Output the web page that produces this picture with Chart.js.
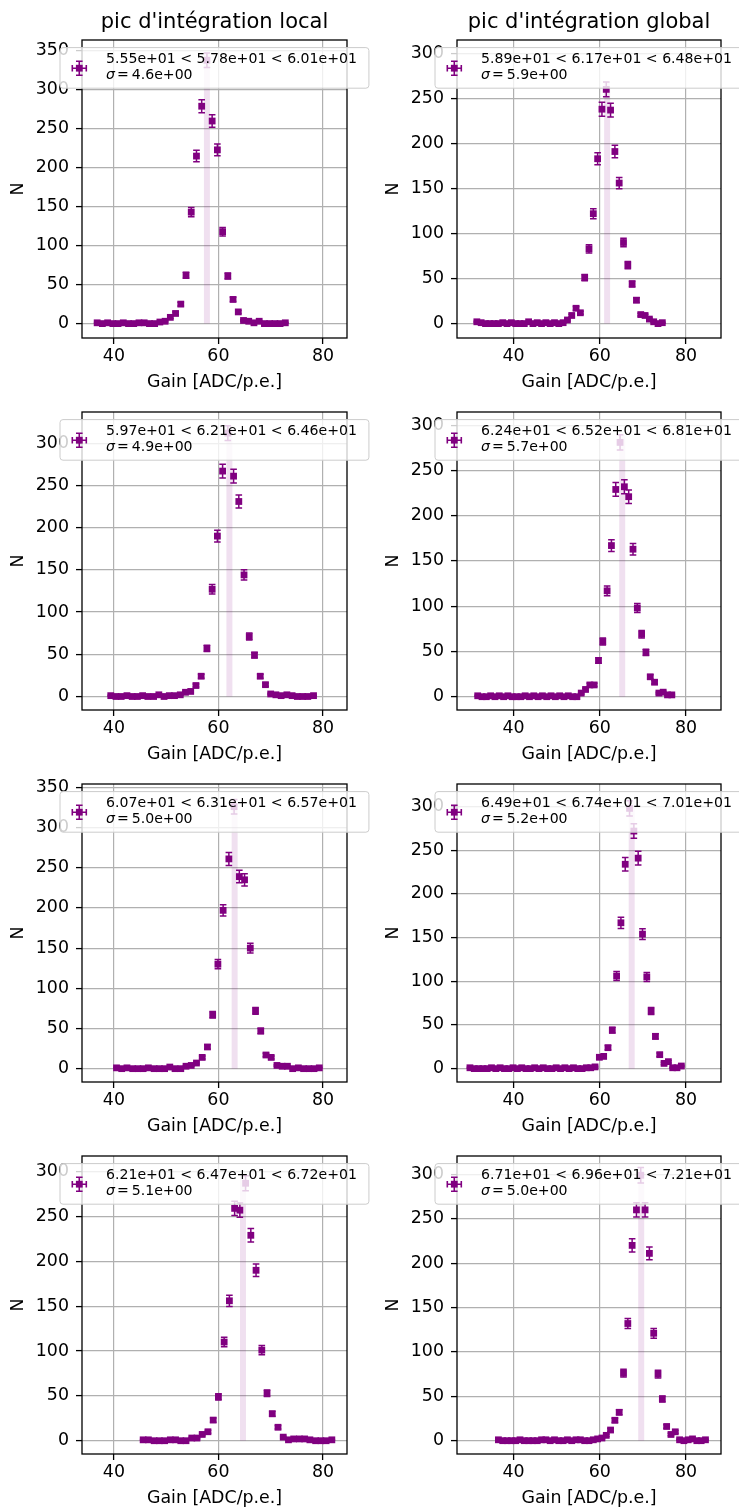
<!DOCTYPE html>
<html>
<head>
<meta charset="utf-8">
<script src="https://cdn.jsdelivr.net/npm/chart.js@4.4.0/dist/chart.umd.min.js"></script>
<style>
  html, body { margin: 0; padding: 0; background: #fff; overflow: hidden; width: 739px; height: 1508px; }
  canvas { position: absolute; }
</style>
</head>
<body>
<script>
// column titles and axis labels
const colTitles = ["pic d'intégration local", "pic d'intégration global"];
const xLabel = 'Gain [ADC/p.e.]';
const yLabel = 'N';

// row 1
const gainLocal1 = [36.8, 37.8, 38.8, 39.8, 40.8, 41.8, 42.8, 43.8, 44.8, 45.8, 46.8, 47.8, 48.8, 49.8, 50.8, 51.8, 52.8, 53.8, 54.8, 55.8, 56.8, 57.8, 58.8, 59.8, 60.8, 61.8, 62.8, 63.8, 64.8, 65.8, 66.8, 67.8, 68.8, 69.8, 70.8, 71.8, 72.8];
const countLocal1 = [1, 0, 1, 0, 0, 1, 0, 0, 1, 1, 0, 0, 2, 3, 8, 13, 25, 62, 143, 215, 279, 338, 260, 223, 118, 61, 31, 15, 4, 3, 1, 3, 0, 0, 0, 0, 1];
const gainGlobal1 = [31.5, 32.5, 33.5, 34.5, 35.5, 36.5, 37.5, 38.5, 39.5, 40.5, 41.5, 42.5, 43.5, 44.5, 45.5, 46.5, 47.5, 48.5, 49.5, 50.5, 51.5, 52.5, 53.5, 54.5, 55.5, 56.5, 57.5, 58.5, 59.5, 60.5, 61.5, 62.5, 63.5, 64.5, 65.5, 66.5, 67.5, 68.5, 69.5, 70.5, 71.5, 72.5, 73.5, 74.5];
const countGlobal1 = [2, 1, 0, 0, 0, 0, 1, 0, 1, 0, 0, 0, 2, 0, 1, 0, 1, 0, 1, 0, 1, 4, 9, 17, 12, 51, 83, 122, 183, 238, 260, 237, 191, 156, 90, 65, 44, 26, 10, 9, 5, 2, 0, 1];

// row 2
const gainLocal2 = [39.4, 40.4, 41.4, 42.5, 43.5, 44.5, 45.5, 46.5, 47.6, 48.6, 49.6, 50.6, 51.6, 52.7, 53.7, 54.7, 55.7, 56.7, 57.8, 58.8, 59.8, 60.8, 61.8, 62.9, 63.9, 64.9, 65.9, 66.9, 68.0, 69.0, 70.0, 71.0, 72.0, 73.1, 74.1, 75.1, 76.1, 77.1, 78.2];
const countLocal2 = [1, 0, 0, 1, 0, 0, 1, 0, 0, 2, 0, 1, 1, 2, 5, 6, 13, 24, 57, 127, 190, 267, 312, 261, 231, 144, 71, 49, 24, 14, 3, 2, 1, 2, 1, 0, 0, 0, 1];
const gainGlobal2 = [31.7, 32.7, 33.7, 34.7, 35.7, 36.7, 37.7, 38.7, 39.7, 40.7, 41.7, 42.7, 43.7, 44.7, 45.7, 46.7, 47.7, 48.7, 49.7, 50.7, 51.7, 52.7, 53.7, 54.7, 55.7, 56.7, 57.7, 58.7, 59.7, 60.7, 61.7, 62.7, 63.7, 64.7, 65.7, 66.7, 67.7, 68.7, 69.7, 70.7, 71.7, 72.7, 73.7, 74.7, 75.7, 76.7];
const countGlobal2 = [1, 0, 0, 1, 0, 1, 0, 1, 0, 0, 0, 1, 0, 1, 0, 1, 0, 1, 0, 1, 0, 1, 0, 0, 4, 8, 13, 13, 40, 61, 117, 167, 229, 281, 232, 221, 163, 98, 69, 49, 22, 16, 4, 5, 2, 2];

// row 3
const gainLocal3 = [40.5, 41.5, 42.5, 43.6, 44.6, 45.6, 46.6, 47.7, 48.7, 49.7, 50.7, 51.7, 52.8, 53.8, 54.8, 55.8, 56.9, 57.9, 58.9, 59.9, 60.9, 62.0, 63.0, 64.0, 65.0, 66.1, 67.1, 68.1, 69.1, 70.1, 71.2, 72.2, 73.2, 74.2, 75.3, 76.3, 77.3, 78.3, 79.3];
const countLocal3 = [1, 0, 1, 0, 0, 0, 1, 0, 0, 0, 2, 0, 0, 3, 4, 7, 14, 27, 67, 130, 197, 261, 326, 239, 235, 150, 72, 47, 17, 14, 4, 3, 3, 0, 1, 0, 0, 0, 1];
const gainGlobal3 = [29.9, 30.9, 31.9, 32.9, 33.9, 34.9, 35.9, 36.9, 37.9, 38.9, 39.9, 40.9, 41.9, 42.9, 43.9, 44.9, 45.9, 46.9, 47.9, 48.9, 49.9, 50.9, 51.9, 52.9, 53.9, 54.9, 55.9, 56.9, 57.9, 58.9, 59.9, 60.9, 61.9, 62.9, 63.9, 64.9, 65.9, 66.9, 67.9, 68.9, 69.9, 70.9, 71.9, 72.9, 73.9, 74.9, 75.9, 76.9, 77.9, 78.9];
const countGlobal3 = [1, 0, 0, 0, 0, 1, 0, 1, 0, 0, 1, 0, 1, 0, 0, 1, 0, 1, 0, 0, 1, 0, 1, 0, 1, 0, 0, 1, 1, 2, 13, 14, 24, 44, 106, 167, 234, 298, 272, 241, 154, 105, 66, 37, 16, 6, 8, 1, 1, 3];

// row 4
const gainLocal4 = [45.6, 46.6, 47.7, 48.7, 49.7, 50.8, 51.8, 52.8, 53.8, 54.9, 55.9, 56.9, 58.0, 59.0, 60.0, 61.1, 62.1, 63.1, 64.1, 65.2, 66.2, 67.2, 68.3, 69.3, 70.3, 71.4, 72.4, 73.4, 74.4, 75.5, 76.5, 77.5, 78.6, 79.6, 80.6, 81.7];
const countLocal4 = [1, 1, 0, 0, 0, 1, 1, 0, 0, 3, 3, 7, 10, 23, 49, 110, 156, 259, 257, 287, 229, 190, 101, 53, 30, 15, 4, 1, 2, 2, 2, 1, 0, 0, 0, 1];
const gainGlobal4 = [36.5, 37.5, 38.5, 39.5, 40.5, 41.5, 42.5, 43.5, 44.5, 45.5, 46.5, 47.5, 48.5, 49.5, 50.5, 51.5, 52.5, 53.5, 54.5, 55.5, 56.5, 57.5, 58.5, 59.5, 60.5, 61.5, 62.5, 63.5, 64.5, 65.5, 66.5, 67.5, 68.5, 69.5, 70.5, 71.5, 72.5, 73.5, 74.5, 75.5, 76.5, 77.5, 78.5, 79.5, 80.5, 81.5, 82.5, 83.5, 84.5];
const countGlobal4 = [1, 0, 0, 0, 0, 1, 0, 0, 0, 0, 1, 1, 0, 1, 0, 0, 1, 0, 1, 1, 0, 0, 1, 2, 3, 6, 12, 23, 32, 76, 132, 220, 260, 299, 260, 211, 121, 75, 47, 16, 7, 10, 1, 0, 1, 2, 0, 0, 1];

// legend numbers per panel (order: L1, R1, L2, R2, L3, R3, L4, R4)
const qLow  = [55.5, 58.9, 59.7, 62.4, 60.7, 64.9, 62.1, 67.1];
const qMed  = [57.8, 61.7, 62.1, 65.2, 63.1, 67.4, 64.7, 69.6];
const qHigh = [60.1, 64.8, 64.6, 68.1, 65.7, 70.1, 67.2, 72.1];
const sigma = [4.6, 5.9, 4.9, 5.7, 5.0, 5.2, 5.1, 5.0];

// axis limits
const xLimLocal = [33.9, 84.6];
const xLimGlobal = [26.9, 88.1];
const yLimLow  = [-18.5, -16, -16, -14.7, -16.6, -15.3, -14.8, -15];
const yLimHigh = [364, 314.8, 337, 314.6, 354.2, 325.9, 317.4, 320.7];

const gains = [gainLocal1, gainGlobal1, gainLocal2, gainGlobal2, gainLocal3, gainGlobal3, gainLocal4, gainGlobal4];
const counts = [countLocal1, countGlobal1, countLocal2, countGlobal2, countLocal3, countGlobal3, countLocal4, countGlobal4];

const PURPLE = '#800080';
const FONT = '"DejaVu Sans", "Liberation Sans", sans-serif';
const BASE = 17.4;
const LEG = 14.1;
Chart.defaults.font.family = FONT;
Chart.defaults.color = '#000';

// error on a count, half the Poisson error
const countErr = n => Math.sqrt(n) / 2;

function sci(v, d) {
  const [m, e] = v.toExponential(d).split('e');
  const n = parseInt(e, 10);
  return m + 'e' + (n < 0 ? '-' : '+') + String(Math.abs(n)).padStart(2, '0');
}

function roundRectPath(ctx, x, y, w, h, r) {
  ctx.beginPath();
  ctx.moveTo(x + r, y);
  ctx.lineTo(x + w - r, y);
  ctx.arcTo(x + w, y, x + w, y + r, r);
  ctx.lineTo(x + w, y + h - r);
  ctx.arcTo(x + w, y + h, x + w - r, y + h, r);
  ctx.lineTo(x + r, y + h);
  ctx.arcTo(x, y + h, x, y + h - r, r);
  ctx.lineTo(x, y + r);
  ctx.arcTo(x, y, x + r, y, r);
  ctx.closePath();
}

function drawErrMarker(ctx, cx, cy, ex, ey, cap) {
  ctx.beginPath();
  ctx.moveTo(cx, cy - ey); ctx.lineTo(cx, cy + ey);
  ctx.moveTo(cx - cap, cy - ey); ctx.lineTo(cx + cap, cy - ey);
  ctx.moveTo(cx - cap, cy + ey); ctx.lineTo(cx + cap, cy + ey);
  if (ex > 0) {
    ctx.moveTo(cx - ex, cy); ctx.lineTo(cx + ex, cy);
    ctx.moveTo(cx - ex, cy - cap); ctx.lineTo(cx - ex, cy + cap);
    ctx.moveTo(cx + ex, cy - cap); ctx.lineTo(cx + ex, cy + cap);
  }
  ctx.stroke();
}

const panelExtras = {
  id: 'panelExtras',
  afterDatasetsDraw(chart) {
    const ctx = chart.ctx;
    const xs = chart.scales.x, ys = chart.scales.y;
    ctx.save();
    ctx.strokeStyle = PURPLE;
    ctx.lineWidth = 1.5;
    chart.data.datasets[0].data.forEach(pt => {
      const e = countErr(pt.y);
      if (e <= 0) return;
      const px = xs.getPixelForValue(pt.x);
      const py = ys.getPixelForValue(pt.y);
      const ey = Math.abs(ys.getPixelForValue(pt.y + e) - py);
      drawErrMarker(ctx, px, py, 0, ey, 3.3);
    });
    ctx.restore();
  },
  afterDraw(chart, args, opts) {
    const ctx = chart.ctx;
    const ca = chart.chartArea;
    ctx.save();
    // spines
    ctx.strokeStyle = '#000';
    ctx.lineWidth = 1.3;
    ctx.strokeRect(ca.left, ca.top, ca.right - ca.left, ca.bottom - ca.top);

    // column title
    if (opts.title) {
      ctx.fillStyle = '#000';
      ctx.font = '21px ' + FONT;
      ctx.textAlign = 'center';
      ctx.textBaseline = 'alphabetic';
      ctx.fillText(opts.title, (ca.left + ca.right) / 2, ca.top - 12.5);
    }

    // legend
    const line1 = sci(opts.low, 2) + ' < ' + sci(opts.med, 2) + ' < ' + sci(opts.high, 2);
    ctx.font = LEG + 'px ' + FONT;
    const w1 = ctx.measureText(line1).width;
    const lx = ca.left - 22, ly = ca.top + 7.6, lw = 46 + w1 + 12, lh = 40.6;
    roundRectPath(ctx, lx, ly, lw, lh, 3);
    ctx.fillStyle = 'rgba(255,255,255,0.8)';
    ctx.fill();
    ctx.strokeStyle = '#cccccc';
    ctx.lineWidth = 1;
    ctx.stroke();

    const mx = lx + 19.3, my = ly + 20.6;
    ctx.strokeStyle = PURPLE;
    ctx.fillStyle = PURPLE;
    ctx.lineWidth = 1.6;
    drawErrMarker(ctx, mx, my, 7, 7, 3.3);
    ctx.fillRect(mx - 3.4, my - 3.4, 6.8, 6.8);

    ctx.fillStyle = '#000';
    ctx.textAlign = 'left';
    ctx.textBaseline = 'alphabetic';
    const tx = lx + 46;
    ctx.fillText(line1, tx, ly + 15.7);
    ctx.font = 'italic ' + LEG + 'px ' + FONT;
    ctx.fillText('σ', tx, ly + 31.4);
    let x2 = tx + ctx.measureText('σ').width + 2;
    ctx.font = LEG + 'px ' + FONT;
    ctx.fillText('=', x2, ly + 31.4);
    x2 += ctx.measureText('=').width + 3;
    ctx.fillText(sci(opts.sigma, 1), x2, ly + 31.4);
    ctx.restore();
  }
};

gains.forEach((xsArr, i) => {
  const col = i % 2, row = Math.floor(i / 2);
  const W = col ? 369 : 370, H = 400;
  const cv = document.createElement('canvas');
  cv.width = W; cv.height = H;
  cv.style.left = (col * 370) + 'px';
  cv.style.top = (row * 372) + 'px';
  cv.style.width = W + 'px';
  cv.style.height = H + 'px';
  document.body.appendChild(cv);

  const ys = counts[i];
  const pts = xsArr.map((x, k) => ({ x: x, y: ys[k] }));
  const bandTop = Math.max(...ys.map(n => n + countErr(n)));
  const xLim = col ? xLimGlobal : xLimLocal;

  new Chart(cv, {
    type: 'scatter',
    data: {
      datasets: [
        {
          label: 'N',
          data: pts,
          pointStyle: 'rect',
          pointRadius: 4.8,
          backgroundColor: PURPLE,
          borderWidth: 0,
          order: 1
        },
        {
          type: 'line',
          label: 'median',
          data: [{ x: qMed[i], y: 0 }, { x: qMed[i], y: bandTop }],
          borderColor: 'rgba(128,0,128,0.12)',
          borderWidth: 6,
          borderCapStyle: 'butt',
          pointRadius: 0,
          order: 2
        }
      ]
    },
    options: {
      responsive: false,
      animation: false,
      devicePixelRatio: 1,
      events: [],
      layout: { padding: { top: 40, left: 0, right: col ? 18 : 23, bottom: 0 } },
      plugins: {
        legend: { display: false },
        tooltip: { enabled: false },
        panelExtras: {
          title: row === 0 ? colTitles[col] : null,
          low: qLow[i], med: qMed[i], high: qHigh[i], sigma: sigma[i]
        }
      },
      scales: {
        x: {
          type: 'linear',
          position: 'bottom',
          min: xLim[0],
          max: xLim[1],
          afterFit: s => { s.height = 62; },
          ticks: { stepSize: 20, includeBounds: false, padding: 2, maxRotation: 0, color: '#000', font: { size: BASE } },
          grid: { color: '#b0b0b0', lineWidth: 1.2, tickColor: '#000', tickLength: 6, tickWidth: 1.3 },
          border: { display: false },
          title: { display: true, text: xLabel, color: '#000', font: { size: BASE }, padding: { top: 0, bottom: 7.5 } }
        },
        y: {
          type: 'linear',
          position: 'left',
          min: yLimLow[i],
          max: yLimHigh[i],
          afterFit: s => { s.width = col ? 87 : 82; },
          ticks: { stepSize: 50, includeBounds: false, padding: 7, color: '#000', font: { size: BASE } },
          grid: { color: '#b0b0b0', lineWidth: 1.2, tickColor: '#000', tickLength: 6, tickWidth: 1.3 },
          border: { display: false },
          title: { display: true, text: yLabel, color: '#000', font: { size: BASE }, padding: { top: col ? 13 : 8.5, bottom: 0 } }
        }
      }
    },
    plugins: [panelExtras]
  });
});
</script>
</body>
</html>
